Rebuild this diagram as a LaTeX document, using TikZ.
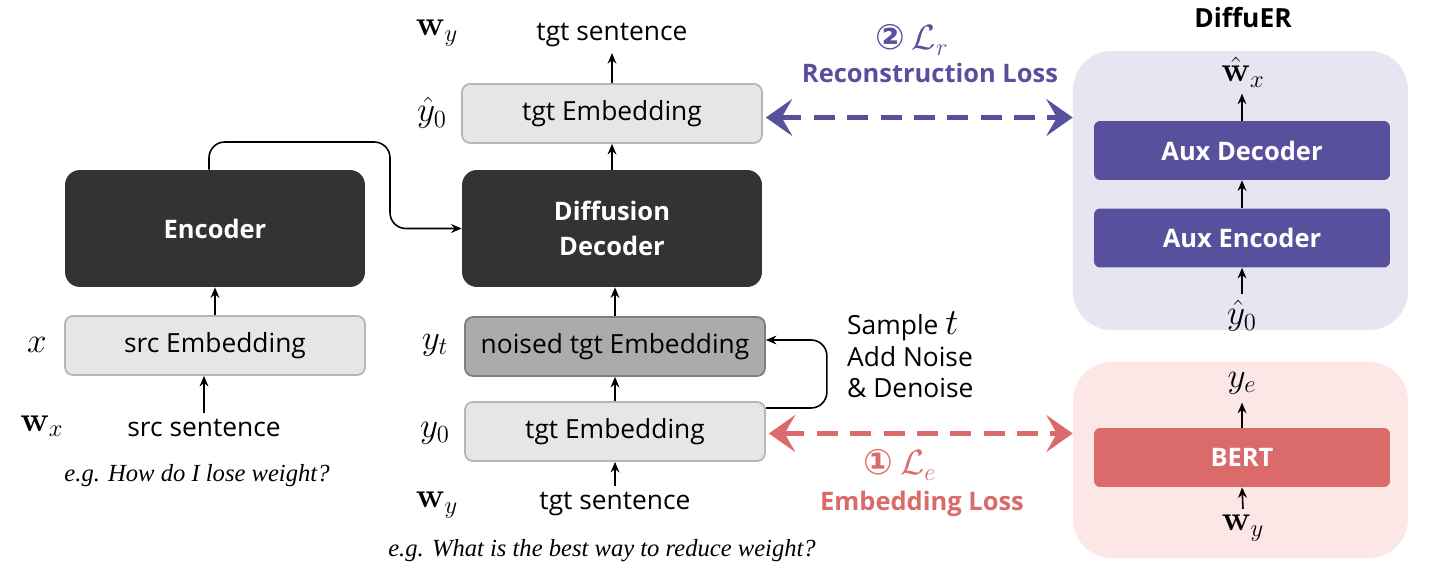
\RequirePackage{fix-cm}
\documentclass[tikz,border=0pt]{standalone}
\usepackage[no-math]{fontspec}
\setmainfont{Open Sans}
\newfontfamily\circfont{DejaVu Sans}
\newfontfamily\egfont{Liberation Serif}
\usetikzlibrary{arrows.meta,calc}
\definecolor{darkbox}{HTML}{333333}
\definecolor{embfill}{HTML}{E6E6E6}
\definecolor{embline}{HTML}{B6B6B6}
\definecolor{noisefill}{HTML}{ABABAB}
\definecolor{noiseline}{HTML}{7E7E7E}
\definecolor{recpurple}{HTML}{58509C}
\definecolor{recpanel}{HTML}{E7E5F1}
\definecolor{embred}{HTML}{DB6A6A}
\definecolor{embpanel}{HTML}{FCE6E6}
\tikzset{
  darkblock/.style={fill=darkbox, rounded corners=8.5pt, minimum width=6cm, minimum height=2.34cm,
    text=white, align=center, font=\fontsize{14.5}{20}\selectfont\bfseries},
  embblock/.style={draw=embline, line width=1pt, fill=embfill, rounded corners=4.5pt,
    minimum width=6cm, minimum height=1.18cm},
  auxblock/.style={fill=#1, rounded corners=3.5pt, minimum width=5.92cm, minimum height=1.18cm,
    text=white, font=\fontsize{14.5}{17}\selectfont\bfseries},
  panel/.style={fill=#1, rounded corners=22pt, minimum width=6.7cm},
  mathlab/.style={font=\fontsize{20}{22}\selectfont},
  eglab/.style={font=\egfont\itshape\fontsize{14}{16}\selectfont},
  flow/.style={line width=0.9pt, -{Stealth[length=6pt,width=5pt]}},
  lossarrow/.style={#1, line width=2.8pt, dash pattern=on 12pt off 7pt,
    {Stealth[length=15pt,width=21pt,inset=6pt]}-{Stealth[length=15pt,width=21pt,inset=6pt]}},
}
\begin{document}
\begin{tikzpicture}[x=0.02cm, y=-0.02cm, font=\fontsize{15}{18}\selectfont]
		%%%%% START %%%%%
		\useasboundingbox (0,0) rectangle (1432,580);
		
		% source side
		\node[darkblock] (enc) at (215,228.5) {Encoder};
		\node[embblock] (srcemb) at (215,345.5) {src Embedding};
		\node[mathlab] (xlab) at (37,345) {$x$};
		\node[mathlab] (wxlab) at (42,426) {$\mathbf{w}_x$};
		\node (srcsent) at (204,428) {src sentence};
		\node[eglab] (egsrc) at (197,476) {e.g. How do I lose weight?};
		\draw[flow] (srcsent.north) -- (srcsent.north |- srcemb.south);
		\draw[flow] (srcemb.north) -- (enc.south);
		
		% target side
		\node[darkblock] (dec) at (612,228.5) {Diffusion\\Decoder};
		\node[embblock] (tgtout) at (612,113.5) {tgt Embedding};
		\node[embblock, draw=noiseline, fill=noisefill] (noised) at (615,346.5) {noised tgt Embedding};
		\node[embblock] (tgtin) at (615,431.5) {tgt Embedding};
		\node (tgtsenttop) at (612,35) {tgt sentence};
		\node (tgtsentbot) at (615,504) {tgt sentence};
		\node[mathlab] (wytop) at (437,33) {$\mathbf{w}_y$};
		\node[mathlab] (yhatlab) at (432,113) {$\hat{y}_0$};
		\node[mathlab] (ytlab) at (435,345) {$y_t$};
		\node[mathlab] (yzerolab) at (435,433) {$y_0$};
		\node[mathlab] (wybot) at (437,505) {$\mathbf{w}_y$};
		\node[eglab] (egtgt) at (602,551) {e.g. What is the best way to reduce weight?};
		\node[anchor=west, align=left] (sample) at (841,355) {Sample {\fontsize{21}{18}\selectfont$t$}\\Add Noise\\\& Denoise};
		
		\draw[flow] (tgtsentbot.north) -- (tgtin.south);
		\draw[flow] (tgtin.north) -- (noised.south);
		\draw[flow] (noised.north) -- (noised.north |- dec.south);
		\draw[flow] (dec.north) -- (tgtout.south);
		\draw[flow] (tgtout.north) -- (tgtsenttop.south);
		\draw[flow, rounded corners=9pt] ($(enc.north)+(-6,0)$) |- (390,142) |- (dec.west);
		\draw[flow, rounded corners=9pt] ($(tgtin.east)+(0,-23.5)$) -- ++(61,0) -- ++(0,-68) -- ($(noised.east)+(0,-6.5)$);
		
		% DiffuER side
		\node[font=\fontsize{15}{18}\selectfont\bfseries] (diffuer) at (1243,18) {DiffuER};
		\node[panel=recpanel, minimum height=5.58cm] (recbox) at (1240.5,190.5) {};
		\node[panel=embpanel, minimum height=3.92cm] (embbox) at (1240.5,460) {};
		\node[auxblock=recpurple] (auxdec) at (1242,150.5) {Aux Decoder};
		\node[auxblock=recpurple] (auxenc) at (1242,238) {Aux Encoder};
		\node[auxblock=embred] (bert) at (1242,457.5) {BERT};
		\node[mathlab, inner sep=1pt] (whatlab) at (1243,72) {$\hat{\mathbf{w}}_x$};
		\node[mathlab] (yhatin) at (1242,316) {$\hat{y}_0$};
		\node[mathlab] (yelab) at (1242,383) {$y_e$};
		\node[mathlab] (wyin) at (1243,528) {$\mathbf{w}_y$};
		\draw[flow] (yhatin.north) -- (auxenc.south);
		\draw[flow] (auxenc.north) -- (auxdec.south);
		\draw[flow] (auxdec.north) -- ++(0,-27);
		\draw[flow] (wyin.north) -- (bert.south);
		\draw[flow] (bert.north) -- ++(0,-25);
		
		% losses
		\draw[lossarrow=recpurple] ($(tgtout.east)+(3,4)$) -- ($(recbox.west |- tgtout.east)+(0,4)$);
		\draw[lossarrow=embred] ($(tgtin.east)+(3,2)$) -- ($(embbox.west |- tgtin.east)+(0,2)$);
		\node[text=recpurple] (recnum) at (912,40) {{\circfont\bfseries\fontsize{20}{20}\selectfont ②}\ \fontsize{20}{22}\selectfont$\mathcal{L}_r$};
		\node[text=recpurple, font=\fontsize{14.5}{17}\selectfont\bfseries] (reclab) at (930,73) {Reconstruction Loss};
		\node[text=embred] (embnum) at (900,465) {{\circfont\bfseries\fontsize{20}{20}\selectfont ①}\ \fontsize{20}{22}\selectfont$\mathcal{L}_e$};
		\node[text=embred, font=\fontsize{14.5}{17}\selectfont\bfseries] (emblab) at (922,504) {Embedding Loss};
		
		%%%%% END %%%%%
	\end{tikzpicture}
\end{document}
